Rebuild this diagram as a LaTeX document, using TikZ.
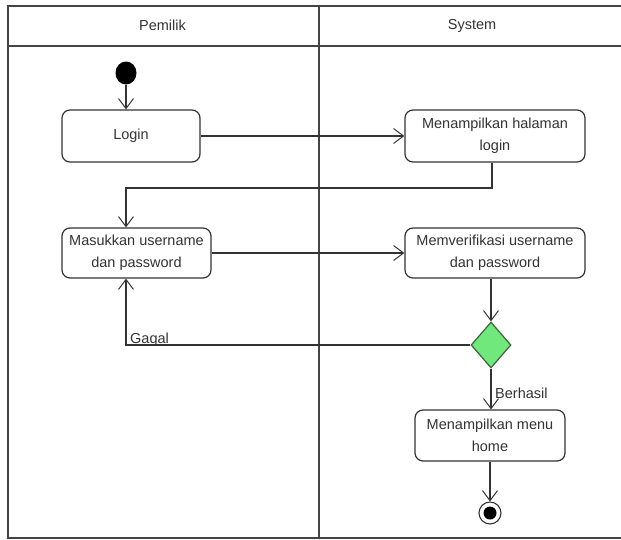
\documentclass[tikz,border=0pt]{standalone}
\usepackage{fontspec}
\setmainfont{Liberation Sans}
\usetikzlibrary{arrows.meta,shapes.geometric}
\definecolor{ink}{HTML}{333333}
\definecolor{frame}{HTML}{444444}
\definecolor{decfill}{RGB}{112,232,124}
\definecolor{decline}{RGB}{60,100,60}
\tikzset{
  act/.style={draw=ink, line width=1.2pt, rounded corners=8pt, fill=white,
    align=center, text=ink, inner sep=2pt,
    font=\fontsize{14.5}{22}\selectfont},
  lane/.style={draw=frame, line width=2pt},
  flow/.style={draw=ink, line width=1.1pt,
    -{Straight Barb[length=10pt,width=15pt,line width=1pt]}},
  lbl/.style={text=ink, inner sep=0pt, font=\fontsize{14.5}{18}\selectfont},
  decision/.style={diamond, draw=decline, fill=decfill, line width=1.2pt,
    minimum width=40pt, minimum height=46pt, inner sep=0pt, aspect=0.87},
}
\begin{document}
\begin{tikzpicture}[x=1pt,y=-1pt]
  \clip (0,0) rectangle (621,539);
  \fill[white] (0,0) rectangle (621,539);

  % swimlane frame
  \draw[lane] (628,5.5) -- (7.5,5.5) -- (7.5,537.5) -- (628,537.5);
  \draw[lane] (7.5,45.5) -- (628,45.5);
  \draw[lane] (318.5,5.5) -- (318.5,537.5);
  \node[lbl] (hp) at (162.5,25.5) {Pemilik};
  \node[lbl] (hs) at (472,25.5) {System};

  % start and end
  \node[ellipse, fill=black, minimum width=21pt, minimum height=23pt, inner sep=0pt] (init) at (126,73) {};
  \node[circle, draw=ink, line width=1.1pt, fill=white, minimum size=22pt, inner sep=0pt] (fin) at (490,513) {};
  \node[circle, fill=black, minimum size=13pt, inner sep=0pt] (fincore) at (fin) {};

  % activities
  \node[act, minimum width=138pt, minimum height=52pt] (login) at (131,136) {Login};
  \node[act, minimum width=180pt, minimum height=52pt] (show) at (495,136) {Menampilkan halaman\\login};
  \node[act, minimum width=149pt, minimum height=50pt] (input) at (136.5,253) {Masukkan username\\dan password};
  \node[act, minimum width=180pt, minimum height=50pt] (verify) at (495,253) {Memverifikasi username\\dan password};
  \node[decision] (dec) at (491,345) {};
  \node[act, minimum width=150pt, minimum height=51pt] (menu) at (490,435.5) {Menampilkan menu\\home};

  % routing points
  \coordinate (c1) at (492,188);
  \coordinate (c2) at (126,188);
  \coordinate (c3) at (126,345);

  % flows
  \draw[flow] (init) -- (init |- login.north);
  \draw[flow] (login.east) -- (show.west |- login.east);
  \draw[flow] (c1 |- show.south) -- (c1) -- (c2) -- (c2 |- input.north);
  \draw[flow] (input.east) -- (verify.west |- input.east);
  \draw[flow] (dec |- verify.south) -- (dec.north);
  \draw[flow] (dec.west) -- (c3) -- (c3 |- input.south);
  \draw[flow] (dec.south) -- (dec |- menu.north);
  \draw[flow] (fin |- menu.south) -- (fin.north);

  % guard labels
  \node[lbl, anchor=base west] (gagal) at (130,343) {Gagal};
  \node[lbl, anchor=base west] (berhasil) at (495,398) {Berhasil};
\end{tikzpicture}
\end{document}
